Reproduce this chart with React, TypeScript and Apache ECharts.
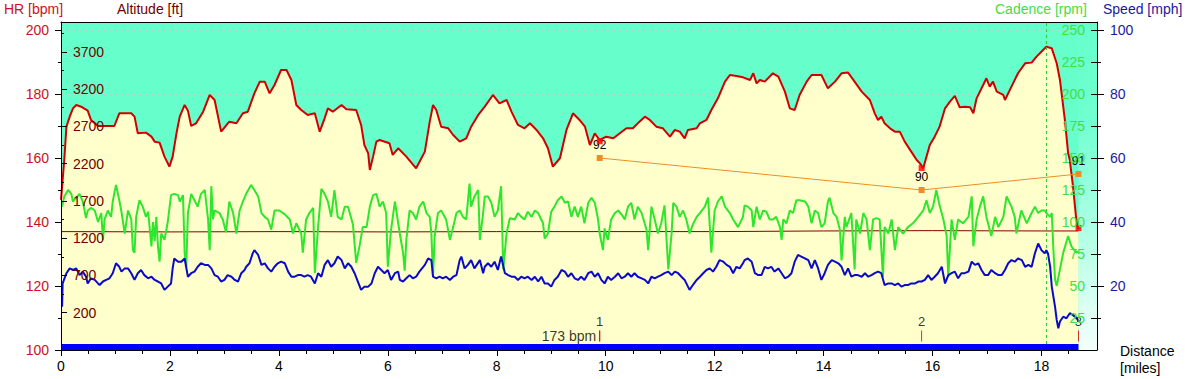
import React, { useEffect, useRef } from 'react';
import * as echarts from 'echarts';

const FONT = '"Liberation Sans", Arial, sans-serif';
const X_MAX = 19.02;

// axis ticks / labels
const distanceLabels = [0, 2, 4, 6, 8, 10, 12, 14, 16, 18];
const hrTicks = [100, 120, 140, 160, 180, 200];
const hrMinorTicks = [110, 130, 150, 170, 190];
const altTicks = [200, 700, 1200, 1700, 2200, 2700, 3200, 3700];
const altMinorTicks = [450, 950, 1450, 1950, 2450, 2950, 3450, 3950];
const cadenceTicks = [25, 50, 75, 100, 125, 150, 175, 200, 225, 250];
const speedTicks = [20, 40, 60, 80, 100];
const speedMinorTicks = [10, 30, 50, 70, 90];

// [distance miles, altitude ft]
const altitude: [number, number][] = [
  [0.0, 1713], [0.06, 2249], [0.1, 2696], [0.16, 2830], [0.22, 2942], [0.28, 2987], [0.37, 2964], [0.49, 2911], [0.55, 2786], [0.68, 2705],
  [0.98, 2705], [1.07, 2875], [1.29, 2875], [1.35, 2830], [1.41, 2607], [1.56, 2616], [1.66, 2562], [1.72, 2495], [1.81, 2482], [1.9, 2294],
  [1.99, 2160], [2.05, 2294], [2.12, 2607], [2.18, 2830], [2.27, 2987], [2.33, 2911], [2.39, 2705], [2.48, 2741], [2.61, 2897], [2.73, 3121],
  [2.82, 3054], [2.94, 2629], [3.09, 2763], [3.22, 2741], [3.34, 2875], [3.43, 2897], [3.55, 3143], [3.65, 3300], [3.74, 3300], [3.83, 3143],
  [3.92, 3255], [4.04, 3456], [4.14, 3456], [4.23, 3322], [4.32, 2987], [4.41, 2920], [4.53, 2853], [4.66, 2875], [4.75, 2629], [4.84, 2808],
  [4.9, 2942], [4.99, 2897], [5.15, 2987], [5.24, 2929], [5.42, 2920], [5.51, 2719], [5.57, 2450], [5.64, 2338], [5.67, 2115], [5.73, 2294],
  [5.79, 2495], [5.85, 2517], [6.03, 2473], [6.09, 2316], [6.19, 2406], [6.34, 2294], [6.52, 2137], [6.68, 2361], [6.77, 2763], [6.83, 2987],
  [6.89, 2920], [6.98, 2696], [7.11, 2674], [7.2, 2584], [7.32, 2495], [7.44, 2540], [7.53, 2696], [7.66, 2853], [7.78, 2964], [7.93, 3121],
  [8.05, 3009], [8.18, 3054], [8.27, 2897], [8.39, 2719], [8.51, 2674], [8.61, 2741], [8.73, 2652], [8.85, 2540], [8.94, 2406], [9.03, 2160],
  [9.16, 2272], [9.28, 2652], [9.4, 2875], [9.52, 2786], [9.62, 2696], [9.71, 2450], [9.8, 2607], [9.89, 2517], [10.01, 2562], [10.14, 2540],
  [10.26, 2607], [10.38, 2674], [10.5, 2674], [10.62, 2763], [10.72, 2830], [10.81, 2786], [10.93, 2696], [11.05, 2674], [11.18, 2562], [11.27, 2652],
  [11.36, 2629], [11.45, 2540], [11.51, 2652], [11.67, 2674], [11.73, 2741], [11.85, 2786], [11.94, 2920], [12.06, 3076], [12.19, 3300], [12.28, 3389],
  [12.4, 3376], [12.52, 3358], [12.65, 3322], [12.71, 3412], [12.77, 3277], [12.83, 3322], [12.92, 3300], [13.07, 3412], [13.17, 3367], [13.29, 3166],
  [13.38, 2942], [13.47, 2920], [13.56, 3121], [13.69, 3300], [13.78, 3389], [13.96, 3389], [14.08, 3210], [14.21, 3300], [14.33, 3412], [14.45, 3421],
  [14.57, 3300], [14.7, 3166], [14.85, 3054], [14.94, 2875], [15.0, 2786], [15.06, 2830], [15.12, 2741], [15.22, 2674], [15.31, 2629], [15.4, 2629],
  [15.49, 2495], [15.61, 2361], [15.71, 2249], [15.77, 2204], [15.83, 2137], [15.89, 2294], [15.95, 2450], [16.04, 2562], [16.13, 2696], [16.23, 2942],
  [16.32, 3032], [16.41, 3108], [16.5, 2956], [16.59, 2964], [16.69, 2956], [16.75, 2875], [16.81, 3076], [16.93, 3255], [16.99, 3345], [17.05, 3233],
  [17.11, 3300], [17.18, 3166], [17.3, 3121], [17.33, 3054], [17.45, 3233], [17.57, 3412], [17.7, 3546], [17.82, 3555], [17.91, 3635], [18.03, 3725],
  [18.09, 3769], [18.19, 3747], [18.28, 3546], [18.34, 3322], [18.43, 2786], [18.49, 2338], [18.52, 2249], [18.58, 1891], [18.64, 1444], [18.68, 1319]
];

// [distance, cadence rpm]
const cadence: [number, number][] = [
  [0.02, 112], [0.06, 120], [0.13, 125], [0.19, 122], [0.22, 116], [0.28, 119], [0.34, 122], [0.4, 116], [0.46, 103], [0.49, 109],
  [0.55, 111], [0.62, 109], [0.68, 100], [0.74, 107], [0.77, 86], [0.8, 102], [0.86, 109], [0.92, 104], [0.95, 116], [1.01, 129],
  [1.07, 117], [1.11, 108], [1.17, 91], [1.23, 109], [1.29, 102], [1.32, 78], [1.35, 76], [1.38, 104], [1.44, 117], [1.5, 112],
  [1.56, 104], [1.6, 108], [1.66, 81], [1.69, 100], [1.72, 85], [1.75, 104], [1.78, 81], [1.81, 69], [1.84, 91], [1.9, 86],
  [1.96, 100], [2.02, 121], [2.08, 122], [2.15, 121], [2.18, 116], [2.24, 121], [2.27, 76], [2.3, 65], [2.33, 107], [2.39, 122],
  [2.45, 117], [2.51, 112], [2.57, 122], [2.64, 125], [2.7, 102], [2.73, 78], [2.76, 128], [2.79, 102], [2.82, 109], [2.91, 107],
  [2.97, 102], [3.03, 92], [3.09, 116], [3.16, 107], [3.22, 91], [3.28, 109], [3.34, 116], [3.4, 122], [3.49, 129], [3.55, 125],
  [3.62, 120], [3.68, 107], [3.74, 104], [3.8, 102], [3.86, 94], [3.92, 109], [4.01, 109], [4.11, 106], [4.2, 102], [4.26, 91],
  [4.32, 99], [4.41, 91], [4.44, 76], [4.5, 102], [4.56, 107], [4.63, 111], [4.66, 60], [4.72, 96], [4.78, 126], [4.84, 122],
  [4.9, 116], [4.96, 104], [5.02, 125], [5.08, 104], [5.15, 102], [5.21, 112], [5.27, 112], [5.36, 98], [5.42, 68], [5.48, 81],
  [5.54, 96], [5.61, 96], [5.67, 112], [5.73, 121], [5.79, 122], [5.85, 112], [5.91, 116], [5.97, 107], [6.0, 65], [6.06, 94],
  [6.13, 116], [6.22, 91], [6.28, 76], [6.31, 62], [6.34, 86], [6.4, 109], [6.46, 107], [6.52, 102], [6.58, 112], [6.65, 116],
  [6.71, 107], [6.77, 104], [6.8, 91], [6.83, 57], [6.86, 89], [6.92, 107], [6.98, 109], [7.07, 102], [7.14, 86], [7.2, 96],
  [7.26, 107], [7.32, 109], [7.38, 104], [7.44, 102], [7.5, 130], [7.53, 112], [7.59, 120], [7.66, 125], [7.69, 86], [7.75, 107],
  [7.78, 120], [7.84, 120], [7.9, 115], [7.96, 104], [8.02, 109], [8.08, 128], [8.12, 63], [8.18, 91], [8.24, 103], [8.33, 102],
  [8.39, 107], [8.45, 104], [8.51, 102], [8.57, 108], [8.64, 104], [8.7, 109], [8.76, 107], [8.85, 99], [8.88, 87], [8.94, 91],
  [9.0, 108], [9.06, 112], [9.12, 117], [9.19, 120], [9.25, 115], [9.31, 116], [9.37, 104], [9.43, 112], [9.49, 104], [9.55, 112],
  [9.61, 99], [9.68, 115], [9.74, 119], [9.8, 115], [9.86, 102], [9.89, 91], [9.95, 78], [9.98, 95], [10.04, 86], [10.1, 102],
  [10.17, 107], [10.23, 109], [10.29, 106], [10.35, 102], [10.41, 112], [10.47, 115], [10.53, 102], [10.59, 112], [10.66, 107], [10.75, 94],
  [10.78, 78], [10.84, 112], [10.9, 102], [10.96, 91], [11.02, 99], [11.08, 113], [11.15, 63], [11.21, 91], [11.24, 115], [11.3, 112],
  [11.36, 104], [11.42, 109], [11.48, 102], [11.54, 91], [11.6, 98], [11.67, 104], [11.73, 107], [11.82, 112], [11.88, 119], [11.94, 76],
  [12.0, 109], [12.06, 116], [12.13, 120], [12.19, 112], [12.28, 107], [12.34, 102], [12.43, 96], [12.52, 104], [12.55, 113], [12.61, 112],
  [12.68, 109], [12.71, 96], [12.77, 112], [12.83, 102], [12.89, 109], [12.95, 108], [13.01, 102], [13.07, 102], [13.13, 104], [13.2, 96],
  [13.23, 86], [13.26, 102], [13.32, 99], [13.38, 109], [13.44, 107], [13.5, 117], [13.56, 117], [13.66, 116], [13.72, 112], [13.78, 99],
  [13.84, 109], [13.9, 107], [13.96, 96], [14.02, 99], [14.08, 116], [14.11, 119], [14.18, 107], [14.24, 104], [14.3, 94], [14.33, 70],
  [14.39, 104], [14.42, 96], [14.51, 107], [14.57, 63], [14.6, 102], [14.67, 91], [14.73, 107], [14.79, 102], [14.85, 78], [14.91, 102],
  [14.97, 103], [15.03, 102], [15.09, 57], [15.12, 96], [15.19, 91], [15.25, 102], [15.31, 78], [15.37, 96], [15.46, 91], [15.55, 96],
  [15.64, 99], [15.74, 104], [15.83, 109], [15.89, 117], [15.95, 107], [16.01, 112], [16.07, 125], [16.13, 113], [16.2, 102], [16.26, 89],
  [16.29, 57], [16.35, 102], [16.41, 86], [16.47, 102], [16.56, 99], [16.66, 104], [16.72, 120], [16.75, 81], [16.81, 102], [16.87, 112],
  [16.93, 120], [16.99, 104], [17.08, 89], [17.15, 104], [17.21, 96], [17.3, 104], [17.36, 120], [17.45, 112], [17.51, 104], [17.54, 91],
  [17.63, 109], [17.73, 99], [17.82, 107], [17.88, 112], [17.94, 107], [18.0, 109], [18.06, 109], [18.09, 107], [18.16, 104], [18.19, 107],
  [18.22, 78], [18.25, 55], [18.28, 50], [18.34, 63], [18.4, 76], [18.49, 89], [18.55, 81], [18.64, 76], [18.68, 77]
];

// [distance, speed mph]
const speed: [number, number][] = [
  [0.02, 13.5], [0.03, 20.8], [0.1, 24.0], [0.16, 25.5], [0.22, 25.0], [0.28, 25.5], [0.34, 23.4], [0.4, 24.5], [0.46, 22.9], [0.49, 20.8],
  [0.55, 22.4], [0.62, 21.9], [0.68, 20.8], [0.71, 20.3], [0.77, 21.4], [0.83, 21.9], [0.89, 22.4], [0.95, 24.0], [1.01, 27.1], [1.07, 26.0],
  [1.11, 24.5], [1.17, 25.5], [1.23, 25.5], [1.29, 24.0], [1.35, 21.9], [1.41, 24.0], [1.47, 25.0], [1.53, 23.4], [1.6, 22.4], [1.66, 22.9],
  [1.72, 21.9], [1.78, 21.4], [1.84, 20.8], [1.9, 18.8], [1.96, 19.8], [2.02, 20.8], [2.05, 25.5], [2.08, 28.6], [2.15, 27.6], [2.21, 27.6],
  [2.27, 28.6], [2.33, 22.9], [2.39, 24.0], [2.45, 24.5], [2.51, 26.0], [2.57, 27.1], [2.64, 26.6], [2.7, 26.6], [2.76, 25.5], [2.82, 23.4],
  [2.88, 22.9], [2.94, 21.4], [3.0, 21.9], [3.06, 23.4], [3.13, 22.9], [3.19, 21.9], [3.25, 21.4], [3.31, 24.0], [3.37, 25.0], [3.4, 26.0],
  [3.46, 27.1], [3.52, 30.2], [3.55, 31.2], [3.62, 29.7], [3.68, 26.6], [3.74, 27.1], [3.8, 25.5], [3.86, 24.5], [3.92, 26.0], [3.98, 27.1],
  [4.04, 27.6], [4.11, 27.1], [4.17, 24.5], [4.23, 22.9], [4.29, 22.9], [4.35, 23.4], [4.41, 23.4], [4.47, 22.9], [4.53, 23.4], [4.59, 22.9],
  [4.66, 20.8], [4.72, 24.0], [4.78, 22.9], [4.84, 26.6], [4.9, 28.1], [4.96, 26.0], [5.02, 27.1], [5.08, 29.2], [5.15, 28.1], [5.21, 25.5],
  [5.27, 27.1], [5.33, 26.0], [5.39, 24.0], [5.45, 21.4], [5.51, 18.8], [5.57, 19.8], [5.64, 19.8], [5.7, 20.8], [5.76, 24.0], [5.82, 26.0],
  [5.88, 25.0], [5.94, 24.0], [6.0, 25.0], [6.06, 21.9], [6.13, 24.0], [6.19, 24.5], [6.22, 21.9], [6.28, 21.4], [6.34, 22.4], [6.4, 23.4],
  [6.46, 22.4], [6.52, 22.9], [6.58, 24.5], [6.68, 26.6], [6.74, 28.6], [6.8, 28.1], [6.83, 22.9], [6.89, 22.4], [6.95, 22.9], [7.01, 22.4],
  [7.07, 22.9], [7.14, 21.9], [7.2, 22.9], [7.26, 23.4], [7.32, 28.1], [7.35, 29.2], [7.41, 25.5], [7.47, 26.6], [7.53, 28.1], [7.59, 25.5],
  [7.69, 28.1], [7.75, 24.0], [7.78, 26.0], [7.84, 27.1], [7.9, 26.0], [7.96, 27.6], [8.02, 25.0], [8.08, 29.2], [8.15, 24.0], [8.21, 23.4],
  [8.27, 22.9], [8.33, 22.9], [8.39, 21.9], [8.45, 22.9], [8.51, 22.4], [8.57, 22.9], [8.64, 21.9], [8.7, 22.9], [8.76, 21.4], [8.82, 22.9],
  [8.88, 20.8], [8.94, 20.8], [9.0, 19.8], [9.06, 21.9], [9.12, 22.9], [9.19, 25.0], [9.25, 24.5], [9.31, 22.9], [9.37, 24.0], [9.43, 22.4],
  [9.49, 21.9], [9.55, 22.9], [9.61, 21.9], [9.68, 24.0], [9.74, 24.5], [9.8, 22.9], [9.86, 24.0], [9.92, 21.9], [9.98, 20.8], [10.04, 22.9],
  [10.1, 21.9], [10.17, 22.9], [10.23, 24.0], [10.29, 22.4], [10.35, 22.9], [10.41, 24.0], [10.47, 22.9], [10.53, 24.0], [10.59, 22.9], [10.66, 22.4],
  [10.72, 21.9], [10.78, 20.8], [10.84, 22.9], [10.9, 22.4], [10.96, 22.9], [11.02, 23.4], [11.08, 24.0], [11.15, 24.5], [11.21, 23.4], [11.27, 24.5],
  [11.33, 24.0], [11.39, 22.9], [11.45, 21.9], [11.51, 19.8], [11.54, 18.8], [11.6, 20.3], [11.67, 21.9], [11.73, 22.9], [11.79, 24.0], [11.85, 25.0],
  [11.91, 25.5], [11.97, 24.5], [12.03, 26.0], [12.09, 28.1], [12.16, 27.6], [12.22, 26.6], [12.28, 26.0], [12.34, 24.0], [12.4, 26.0], [12.46, 25.5],
  [12.52, 27.1], [12.55, 28.1], [12.61, 28.6], [12.68, 27.6], [12.74, 24.0], [12.8, 23.4], [12.86, 23.4], [12.92, 26.0], [12.98, 25.5], [13.04, 26.0],
  [13.1, 24.5], [13.17, 25.5], [13.23, 24.0], [13.29, 22.4], [13.35, 22.9], [13.41, 24.0], [13.47, 27.6], [13.53, 29.7], [13.59, 29.2], [13.66, 28.6],
  [13.72, 28.1], [13.78, 25.5], [13.84, 28.1], [13.9, 25.5], [13.96, 21.9], [14.02, 24.0], [14.08, 26.6], [14.15, 28.1], [14.21, 27.6], [14.27, 27.1],
  [14.33, 26.0], [14.39, 23.4], [14.45, 25.5], [14.51, 22.9], [14.57, 23.4], [14.63, 23.4], [14.7, 22.9], [14.76, 24.0], [14.82, 22.9], [14.88, 23.4],
  [14.94, 24.0], [15.0, 24.5], [15.06, 24.0], [15.12, 20.3], [15.19, 20.8], [15.25, 20.8], [15.31, 20.3], [15.37, 20.8], [15.43, 19.8], [15.49, 20.3],
  [15.55, 20.3], [15.61, 20.8], [15.68, 20.8], [15.74, 21.4], [15.8, 21.4], [15.86, 21.9], [15.92, 23.4], [15.98, 21.9], [16.04, 22.9], [16.1, 24.0],
  [16.17, 26.0], [16.23, 20.8], [16.29, 23.4], [16.35, 24.0], [16.41, 24.5], [16.47, 22.4], [16.53, 24.0], [16.59, 24.0], [16.66, 24.5], [16.72, 27.6],
  [16.78, 26.6], [16.84, 27.1], [16.9, 25.0], [16.96, 23.4], [17.02, 23.4], [17.08, 25.0], [17.15, 24.0], [17.21, 23.4], [17.27, 23.4], [17.33, 25.0],
  [17.39, 27.1], [17.45, 28.1], [17.51, 27.6], [17.57, 28.6], [17.64, 28.1], [17.7, 26.0], [17.76, 26.6], [17.82, 26.0], [17.88, 30.2], [17.94, 33.3],
  [18.0, 31.2], [18.06, 30.2], [18.09, 31.2], [18.12, 30.2], [18.16, 26.0], [18.19, 19.8], [18.25, 13.5], [18.28, 9.4], [18.31, 6.8], [18.34, 8.9],
  [18.4, 10.4], [18.46, 9.9], [18.52, 11.5], [18.58, 10.9], [18.65, 9.9], [18.68, 8.9]
];

// [distance, heart rate bpm]
const heartRate: [number, number][] = [
  [0, 137.0], [2, 136.9], [4, 137.0], [6, 136.9], [8, 137.0], [10, 137.0], [12, 137.0], [14, 137.2], [16, 137.3], [18, 137.2], [18.68, 137.2]
];

// HR zone bar along the bottom
const zoneBar: [number, number][] = [[0, 100.95], [18.68, 100.95]];

// laps
const lapDistances = [9.89, 15.8, 18.68];
const lapNames = ['1', '2', '3'];
const lapAvgValues = [160, 150, 155];
const lapAvgLabels = ['92', '90', '91'];
const lapAltitudes = [2500, 2141, 1336];
const lapMarkerLevel = 104.4;
const lapHrText = '173 bpm';
const markerDistance = 18.09;

const minorDistanceTicks: number[] = [];
for (let i = 1; i < 38; i++) {
  if (i % 4 !== 0) minorDistanceTicks.push(i * 0.5);
}

export default function App() {
  const ref = useRef<HTMLDivElement>(null);

  useEffect(() => {
    if (!ref.current) return;
    const chart = echarts.init(ref.current, null, { renderer: 'svg' });

    const hiddenParts = {
      axisLine: { show: false, onZero: false },
      axisTick: { show: false },
      axisLabel: { show: false },
      splitLine: { show: false }
    };
    const black = { color: '#000000', width: 1 };
    const plain = (v: number) => String(v);

    const option: any = {
      animation: false,
      backgroundColor: '#FFFFFF',
      textStyle: { fontFamily: FONT },
      grid: {
        left: 61, right: 91, top: 22, bottom: 29,
        show: true, backgroundColor: '#66FFCC', borderColor: '#000000', borderWidth: 0
      },
      xAxis: [
        {
          type: 'value', min: 0, max: X_MAX, position: 'bottom', z: 10,
          axisLine: { show: true, onZero: false, lineStyle: black },
          axisTick: { show: true, customValues: distanceLabels, length: 6, lineStyle: black },
          axisLabel: { show: true, customValues: distanceLabels, formatter: plain, color: '#000000', fontSize: 14, margin: 9, fontFamily: FONT },
          splitLine: { show: false }
        },
        {
          type: 'value', min: 0, max: X_MAX, position: 'bottom', z: 10,
          ...hiddenParts,
          axisTick: { show: true, customValues: minorDistanceTicks, length: 4, lineStyle: black }
        },
        {
          type: 'value', min: 0, max: X_MAX, position: 'bottom', interval: 10, z: 1,
          ...hiddenParts,
          splitLine: { show: true, lineStyle: { color: '#B8D8C8', type: [3, 3], width: 1 } }
        },
        {
          type: 'value', min: 0, max: X_MAX, position: 'top', z: 10,
          ...hiddenParts,
          axisLine: { show: true, onZero: false, lineStyle: black }
        }
      ],
      yAxis: [
        {
          type: 'value', min: 100, max: 202.5, position: 'left', z: 10,
          axisLine: { show: true, onZero: false, lineStyle: black },
          axisTick: { show: true, customValues: hrTicks, length: 6, lineStyle: black },
          axisLabel: { show: true, customValues: hrTicks, formatter: plain, color: '#CC1122', fontSize: 14, margin: 12, fontFamily: FONT },
          splitLine: { show: false }
        },
        {
          type: 'value', min: 100, max: 202.5, position: 'left', z: 10,
          ...hiddenParts,
          axisTick: { show: true, customValues: hrMinorTicks, length: 3, lineStyle: black }
        },
        {
          type: 'value', min: -300, max: 4100, position: 'left', z: 10,
          axisLine: { show: false, onZero: false },
          axisTick: { show: true, inside: true, customValues: altTicks, length: 6, lineStyle: black },
          axisLabel: { show: true, inside: true, customValues: altTicks, formatter: plain, color: '#6E0000', fontSize: 14, margin: 12, fontFamily: FONT },
          splitLine: { show: false }
        },
        {
          type: 'value', min: -300, max: 4100, position: 'left', z: 10,
          ...hiddenParts,
          axisTick: { show: true, inside: true, customValues: altMinorTicks, length: 3, lineStyle: black }
        },
        {
          type: 'value', min: 0, max: 256.25, position: 'right', z: 10,
          axisLine: { show: true, onZero: false, lineStyle: black },
          axisTick: { show: true, inside: true, customValues: cadenceTicks, length: 6, lineStyle: black },
          axisLabel: { show: true, inside: true, customValues: cadenceTicks, formatter: plain, color: '#44DD44', fontSize: 14, margin: 12, fontFamily: FONT },
          splitLine: { show: false }
        },
        {
          type: 'value', min: 0, max: 102.5, position: 'right', z: 10,
          axisLine: { show: false, onZero: false },
          axisTick: { show: true, customValues: speedTicks, length: 7, lineStyle: black },
          axisLabel: { show: true, customValues: speedTicks, formatter: plain, color: '#1A1A99', fontSize: 14, margin: 13, fontFamily: FONT },
          splitLine: { show: false }
        },
        {
          type: 'value', min: 0, max: 102.5, position: 'right', z: 10,
          ...hiddenParts,
          axisTick: { show: true, customValues: speedMinorTicks, length: 4, lineStyle: black }
        },
        {
          type: 'value', min: 100, max: 202.5, position: 'left', interval: 20, z: 1,
          ...hiddenParts,
          splitLine: { show: true, lineStyle: { color: '#B8D8C8', type: [3, 3], width: 1 } }
        }
      ],
      series: [
        {
          name: 'Altitude', type: 'line', xAxisIndex: 0, yAxisIndex: 2,
          data: altitude, symbol: 'none', z: 2,
          lineStyle: { color: '#D00000', width: 2 },
          areaStyle: { color: '#FFFFCC', opacity: 1, origin: 'start' },
          markArea: {
            silent: true,
            itemStyle: {
              color: new echarts.graphic.LinearGradient(0, 0, 0, 1, [
                { offset: 0, color: '#66FFCC' },
                { offset: 0.3, color: '#70FFD0' },
                { offset: 1, color: '#F4FFFC' }
              ])
            },
            data: [[{ xAxis: altitude[altitude.length - 1][0] }, { xAxis: X_MAX }]]
          }
        },
        {
          name: 'HR', type: 'line', xAxisIndex: 0, yAxisIndex: 0,
          data: heartRate, symbol: 'none', z: 3,
          lineStyle: { color: '#800000', width: 1 }
        },
        {
          name: 'Cadence', type: 'line', xAxisIndex: 0, yAxisIndex: 4,
          data: cadence, symbol: 'none', z: 4,
          lineStyle: { color: '#2EE62E', width: 2 },
          markLine: {
            silent: true, symbol: ['none', 'none'], label: { show: false },
            lineStyle: { color: '#33CC33', type: [3, 3], width: 1 },
            data: [{ xAxis: markerDistance }]
          }
        },
        {
          name: 'Speed', type: 'line', xAxisIndex: 0, yAxisIndex: 5,
          data: speed, symbol: 'none', z: 5,
          lineStyle: { color: '#0A0AC8', width: 2 }
        },
        {
          name: 'Zones', type: 'line', xAxisIndex: 0, yAxisIndex: 0,
          data: zoneBar, symbol: 'none', z: 6,
          lineStyle: { color: '#0000FF', width: 6, cap: 'butt' }
        },
        {
          name: 'LapAvg', type: 'line', xAxisIndex: 0, yAxisIndex: 0,
          data: lapDistances.map((d, i) => [d, lapAvgValues[i]]),
          symbol: 'rect', symbolSize: 6, z: 7,
          lineStyle: { color: '#F08C28', width: 1 },
          itemStyle: { color: '#F08C28' },
          label: {
            show: true, position: 'top', distance: 4, color: '#000000', fontSize: 12, fontFamily: FONT,
            formatter: (p: any) => lapAvgLabels[p.dataIndex]
          }
        },
        {
          name: 'LapAlt', type: 'scatter', xAxisIndex: 0, yAxisIndex: 2,
          data: lapDistances.map((d, i) => [d, lapAltitudes[i]]),
          symbol: 'rect', symbolSize: 6, z: 8,
          itemStyle: { color: '#FF0000' }
        },
        {
          name: 'Laps', type: 'scatter', xAxisIndex: 0, yAxisIndex: 0,
          data: lapDistances.map((d) => [d, lapMarkerLevel]),
          symbol: 'rect', symbolSize: [1, 11], z: 8,
          itemStyle: { color: '#CC0000' },
          label: {
            show: true, position: 'top', distance: 2, color: '#000000', fontSize: 13, fontFamily: FONT,
            formatter: (p: any) => lapNames[p.dataIndex]
          }
        },
        {
          name: 'LapHr', type: 'scatter', xAxisIndex: 0, yAxisIndex: 0,
          data: [[lapDistances[0], lapMarkerLevel]],
          symbol: 'rect', symbolSize: [1, 11], z: 8,
          itemStyle: { color: '#CC0000' },
          label: {
            show: true, position: 'left', distance: 3, color: '#000000', fontSize: 14, fontFamily: FONT,
            formatter: () => lapHrText
          }
        }
      ],
      graphic: [
        { type: 'text', left: 4, top: 2, style: { text: 'HR [bpm]', fill: '#CC1122', font: `14px ${FONT}` } },
        { type: 'text', left: 117, top: 2, style: { text: 'Altitude [ft]', fill: '#6E0000', font: `14px ${FONT}` } },
        { type: 'text', left: 995, top: 2, style: { text: 'Cadence [rpm]', fill: '#44DD44', font: `14px ${FONT}` } },
        { type: 'text', left: 1103, top: 2, style: { text: 'Speed [mph]', fill: '#1A1A99', font: `14px ${FONT}` } },
        { type: 'text', left: 1120, top: 344, style: { text: 'Distance', fill: '#000000', font: `14px ${FONT}` } },
        { type: 'text', left: 1120, top: 361, style: { text: '[miles]', fill: '#000000', font: `14px ${FONT}` } }
      ]
    };

    chart.setOption(option);
    return () => chart.dispose();
  }, []);

  return (
    <div
      ref={ref}
      style={{ position: 'absolute', left: 0, top: 0, width: 1188, height: 379 }}
    />
  );
}
